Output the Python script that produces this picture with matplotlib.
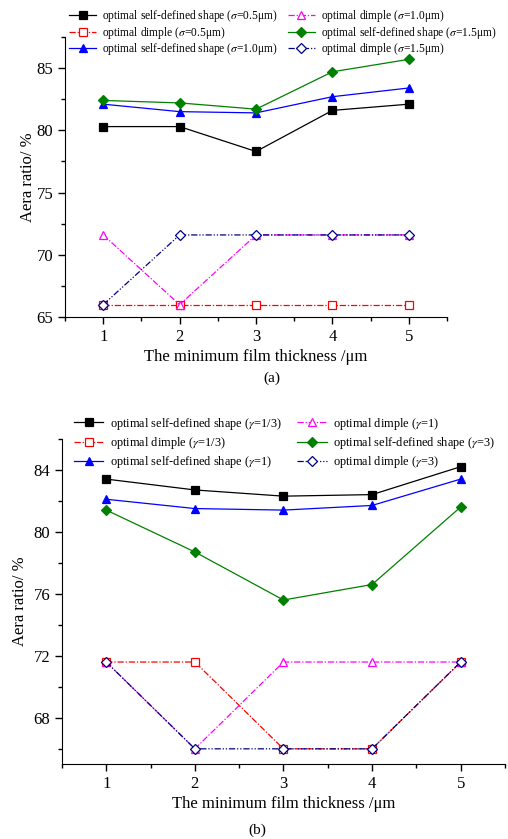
import matplotlib
matplotlib.use("Agg")
import matplotlib.pyplot as plt
from matplotlib.ticker import MultipleLocator

plt.rcParams["font.family"] = ["Liberation Serif", "DejaVu Serif"]
plt.rcParams["mathtext.fontset"] = "stix"

x = [1, 2, 3, 4, 5]

# panel (a): different sigma
a_shape_05 = [80.3, 80.3, 78.3, 81.6, 82.1]
a_dimple_05 = [66.0, 66.0, 66.0, 66.0, 66.0]
a_shape_10 = [82.1, 81.5, 81.4, 82.7, 83.4]
a_dimple_10 = [71.6, 66.0, 71.6, 71.6, 71.6]
a_shape_15 = [82.4, 82.2, 81.7, 84.7, 85.7]
a_dimple_15 = [66.0, 71.6, 71.6, 71.6, 71.6]
a_labels = ["optimal self-defined shape ($\\sigma$=0.5μm)",
            "optimal dimple ($\\sigma$=0.5μm)",
            "optimal self-defined shape ($\\sigma$=1.0μm)",
            "optimal dimple ($\\sigma$=1.0μm)",
            "optimal self-defined shape ($\\sigma$=1.5μm)",
            "optimal dimple ($\\sigma$=1.5μm)"]

# panel (b): different gamma
b_shape_13 = [83.4, 82.7, 82.3, 82.4, 84.2]
b_dimple_13 = [71.6, 71.6, 66.0, 66.0, 71.6]
b_shape_1 = [82.1, 81.5, 81.4, 81.7, 83.4]
b_dimple_1 = [71.6, 66.0, 71.6, 71.6, 71.6]
b_shape_3 = [81.4, 78.7, 75.6, 76.6, 81.6]
b_dimple_3 = [71.6, 66.0, 66.0, 66.0, 71.6]
b_labels = ["optimal self-defined shape ($\\gamma$=1/3)",
            "optimal dimple ($\\gamma$=1/3)",
            "optimal self-defined shape ($\\gamma$=1)",
            "optimal dimple ($\\gamma$=1)",
            "optimal self-defined shape ($\\gamma$=3)",
            "optimal dimple ($\\gamma$=3)"]

styles = [
    dict(color="black", marker="s", ls="-", mfc="black"),
    dict(color="red", marker="s", ls=(0, (5, 1.5, 1, 1.5)), mfc="white"),
    dict(color="blue", marker="^", ls="-", mfc="blue"),
    dict(color="magenta", marker="^", ls=(0, (5, 1.5, 1, 1.5)), mfc="white"),
    dict(color="green", marker="D", ls="-", mfc="green"),
    dict(color="navy", marker="D", ls=(0, (5, 1.5, 1, 1.5, 1, 1.5)), mfc="white"),
]

fig = plt.figure(figsize=(5.08, 8.39), dpi=100)
ax1 = fig.add_axes([0.128, 0.622, 0.752, 0.334])
ax2 = fig.add_axes([0.122, 0.089, 0.872, 0.388])


def draw(ax, series, labels):
    handles = []
    for ys, lab, st in zip(series, labels, styles):
        ms = 5.5 if st["marker"] != "D" else 4.8
        h, = ax.plot(x, ys, color=st["color"], ls=st["ls"], lw=0.9,
                     marker=st["marker"], ms=ms, mfc=st["mfc"],
                     mec=st["color"], mew=0.9, label=lab)
        handles.append(h)
    ax.spines["top"].set_visible(False)
    ax.spines["right"].set_visible(False)
    ax.set_xlim(0.5, 5.5)
    ax.xaxis.set_major_locator(MultipleLocator(1))
    ax.xaxis.set_minor_locator(MultipleLocator(0.5))
    ax.tick_params(which="major", direction="out", length=5, width=1, labelsize=12)
    ax.tick_params(which="minor", direction="out", length=3, width=1)
    ax.set_xlabel("The minimum film thickness /μm", fontsize=12, labelpad=3)
    return handles


h1 = draw(ax1, [a_shape_05, a_dimple_05, a_shape_10, a_dimple_10, a_shape_15, a_dimple_15], a_labels)
ax1.set_ylim(65, 87.5)
ax1.yaxis.set_major_locator(MultipleLocator(5))
ax1.yaxis.set_minor_locator(MultipleLocator(2.5))
ax1.set_ylabel("Aera ratio/ %", fontsize=12, labelpad=0)

h2 = draw(ax2, [b_shape_13, b_dimple_13, b_shape_1, b_dimple_1, b_shape_3, b_dimple_3], b_labels)
ax2.set_ylim(65, 86)
ax2.yaxis.set_major_locator(MultipleLocator(4))
ax2.yaxis.set_minor_locator(MultipleLocator(2))
ax2.set_ylabel("Aera ratio/ %", fontsize=12, labelpad=4)

fig.legend(h1, a_labels,
           loc="upper left", bbox_to_anchor=(0.12, 1.0), ncol=2, frameon=False,
           fontsize=8.3, handlelength=2.35, handletextpad=0.5, columnspacing=0.9,
           labelspacing=0.05, borderpad=0.2)
fig.legend(h2, b_labels,
           loc="upper left", bbox_to_anchor=(0.128, 0.515), ncol=2, frameon=False,
           fontsize=8.9, handlelength=2.4, handletextpad=0.5, columnspacing=1.3,
           labelspacing=0.27, borderpad=0.2)

fig.text(0.535, 0.549, "(a)", ha="center", va="center", fontsize=11)
fig.text(0.506, 0.01, "(b)", ha="center", va="center", fontsize=11)

fig.savefig("out.png", dpi=100)
